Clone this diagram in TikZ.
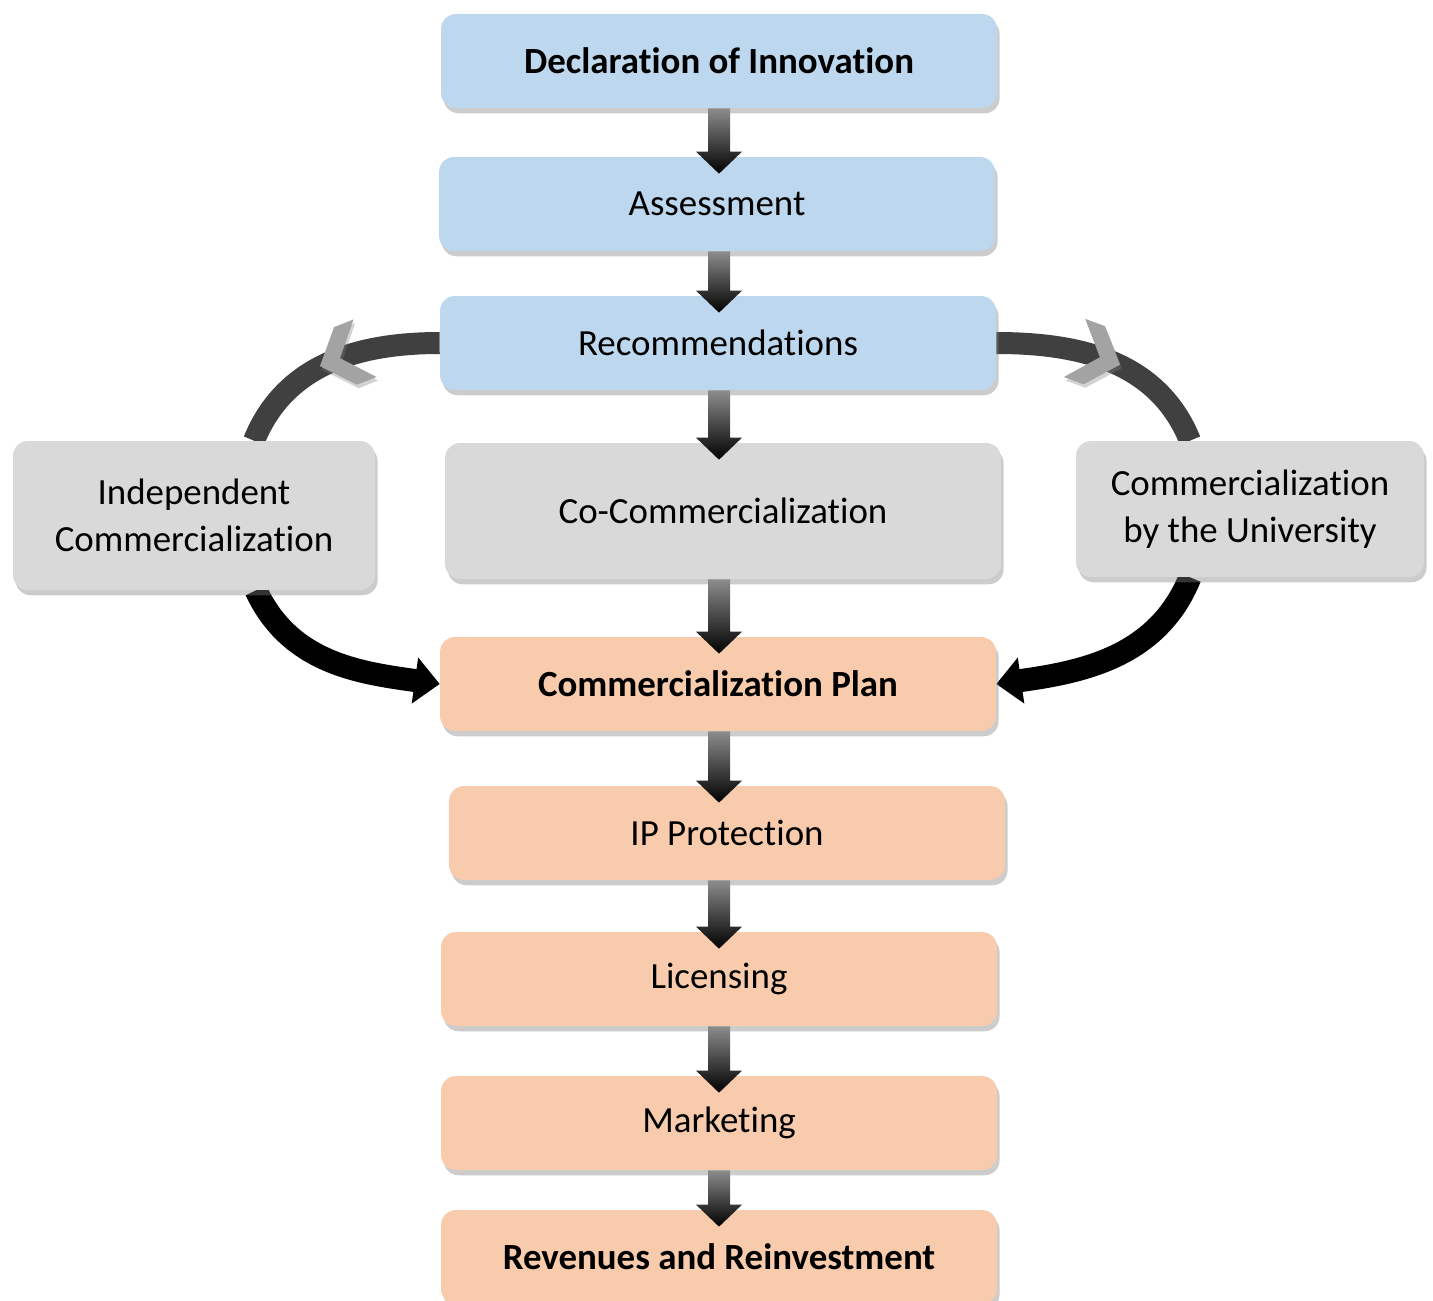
\documentclass[tikz,border=0pt]{standalone}
\usepackage{fontspec}
\setmainfont{Carlito}[Ligatures=NoCommon]
\usetikzlibrary{arrows.meta,shadows,decorations.markings,calc,backgrounds}

\definecolor{stepblue}{HTML}{BDD7EE}
\definecolor{stepgrey}{HTML}{D9D9D9}
\definecolor{steporange}{HTML}{F8CBAD}
\definecolor{chevgrey}{HTML}{A3A3A3}

\tikzset{
  box/.style={rounded corners=0.3cm, inner sep=0pt, align=center,
    minimum width=11.12cm, minimum height=1.88cm,
    font=\fontsize{21}{27}\selectfont,
    drop shadow={shadow xshift=1.5pt, shadow yshift=-3pt, opacity=.4}},
  bluebox/.style={box, fill=stepblue},
  greybox/.style={box, fill=stepgrey},
  orangebox/.style={box, fill=steporange},
  looparc/.style={line width=0.44cm, draw=black!75, postaction={decorate},
    decoration={markings, mark=at position #1 with {
      \fill[chevgrey, drop shadow={shadow xshift=1pt, shadow yshift=-2pt, opacity=.35}]
        (0.35cm,0cm) -- (-0.2cm,0.62cm) -- (-0.62cm,0.62cm) -- (-0.08cm,0cm)
        -- (-0.62cm,-0.62cm) -- (-0.2cm,-0.62cm) -- cycle;}}},
  backarc/.style={line width=0.46cm, draw=black,
    -{Triangle[width=0.9cm,length=0.5cm]}}
}

% down arrow between two boxes of the column
\newcommand{\flowarrow}[2]{%
  \shade[top color=black!45, middle color=black, bottom color=black]
    let \p1=(#1.south -| decl.south), \p2=(#2.north -| decl.south) in
    (\x1-0.22cm,\y1) -- (\x1+0.22cm,\y1) -- (\x1+0.22cm,\y2+0.1cm)
    -- (\x1+0.46cm,\y2+0.1cm) -- (\x1,\y2-0.34cm) -- (\x1-0.46cm,\y2+0.1cm)
    -- (\x1-0.22cm,\y2+0.1cm) -- cycle;}

\begin{document}
\begin{tikzpicture}[x=0.02cm, y=-0.02cm]
  \useasboundingbox (0,0) rectangle (1433,1301);

  \node[bluebox] (decl) at (719,61) {\bfseries Declaration of Innovation};
  \node[bluebox] (assess) at (717,204) {Assessment};
  \node[bluebox] (rec) at (718,343) {Recommendations};
  \node[greybox, minimum width=7.24cm, minimum height=2.98cm] (indep) at (194,515.5)
    {Independent\\Commercialization};
  \node[greybox, minimum height=2.72cm] (cocom) at (723,511) {Co-Commercialization};
  \node[greybox, minimum width=6.96cm, minimum height=2.72cm] (univ) at (1250,509)
    {Commercialization\\by the University};
  \node[orangebox] (plan) at (718,684) {\bfseries Commercialization Plan};
  \node[orangebox] (ipprot) at (727,833) {IP Protection};
  \node[orangebox] (lic) at (719,979) {Licensing};
  \node[orangebox] (mkt) at (719,1123) {Marketing};
  \node[orangebox] (rev) at (719,1257) {\bfseries Revenues and Reinvestment};

  \begin{scope}[on background layer]
    \draw[looparc=0.47] (rec.west) to[out=180, in=68] ($(indep.north)+(60,0)$);
    \draw[looparc=0.47] (rec.east) to[out=0, in=112] ($(univ.north)+(-60,0)$);
    \draw[backarc] ($(indep.south)+(62,0)$) to[out=-65, in=172] (plan.west);
    \draw[backarc] ($(univ.south)+(-60,0)$) to[out=-112, in=8] (plan.east);
  \end{scope}

  \flowarrow{decl}{assess}
  \flowarrow{assess}{rec}
  \flowarrow{rec}{cocom}
  \flowarrow{cocom}{plan}
  \flowarrow{plan}{ipprot}
  \flowarrow{ipprot}{lic}
  \flowarrow{lic}{mkt}
  \flowarrow{mkt}{rev}
\end{tikzpicture}
\end{document}
